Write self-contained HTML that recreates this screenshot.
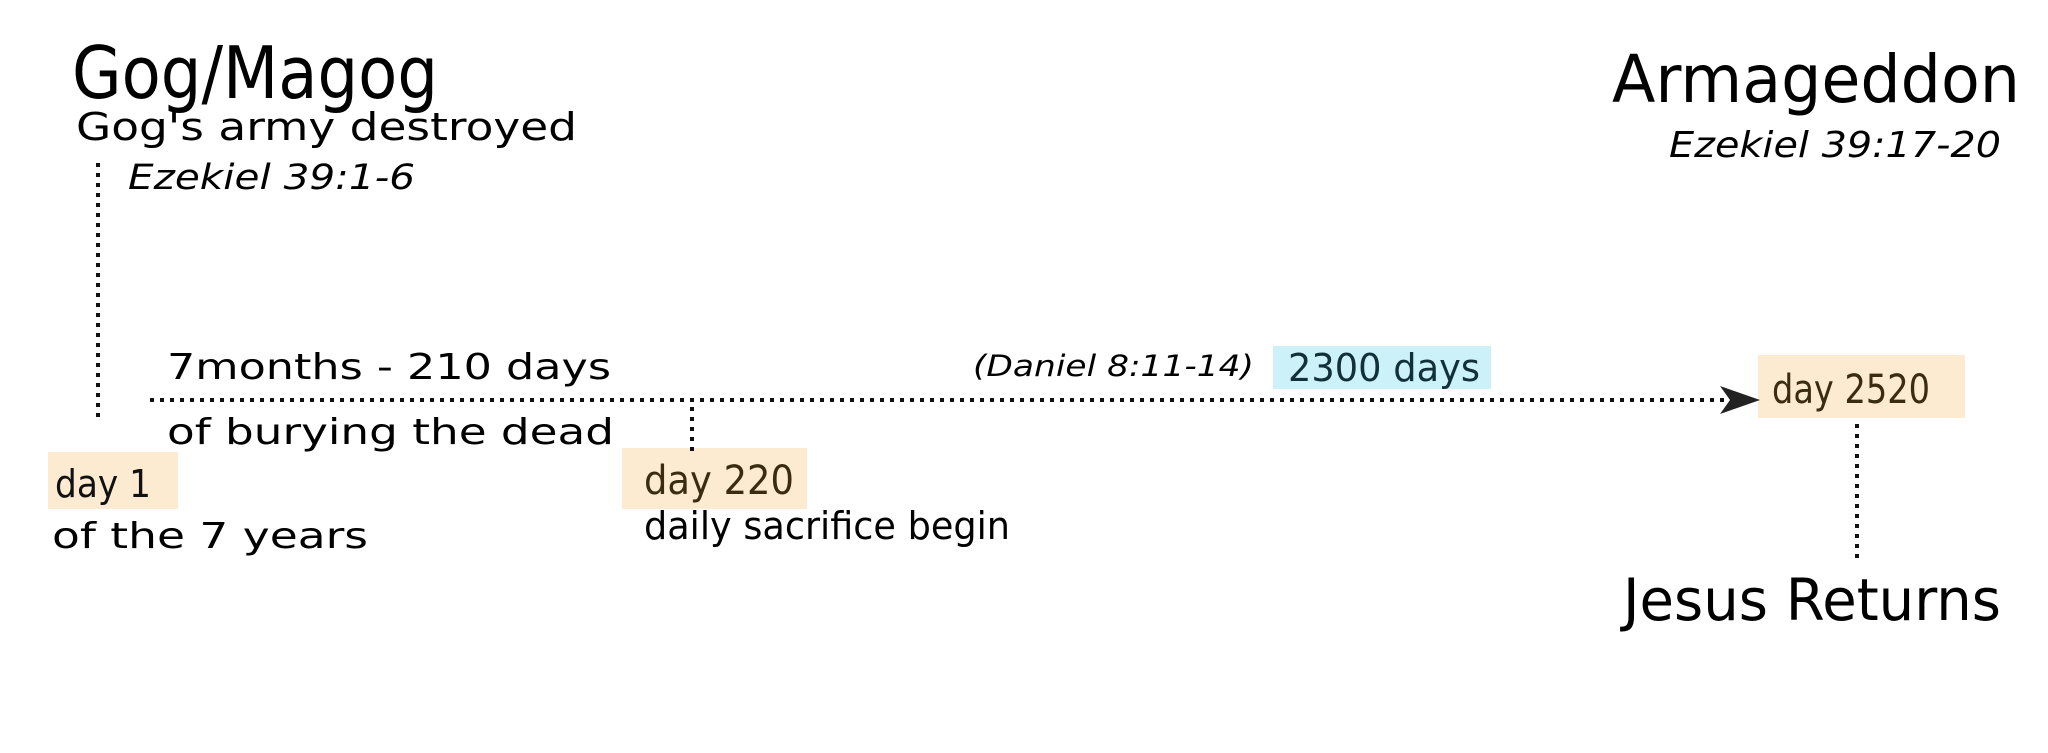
<!DOCTYPE html>
<html><head><meta charset="utf-8"><style>html,body{margin:0;padding:0;background:#fff}svg{display:block}</style></head>
<body>
<svg width="2048" height="753" viewBox="0 0 2048 753" xmlns="http://www.w3.org/2000/svg" font-family="DejaVu Sans, Liberation Sans, sans-serif">
<rect width="2048" height="753" fill="#fff"/>
<rect x="48" y="452" width="130" height="57" fill="#fcebd0"/>
<rect x="622" y="448" width="185" height="61" fill="#fcebd0"/>
<rect x="1273" y="346" width="218" height="43" fill="#cdf1f9"/>
<rect x="1758" y="355" width="207" height="63" fill="#fcebd0"/>
<g stroke="#111" stroke-width="4" stroke-dasharray="4 6" fill="none">
<line x1="98" y1="163" x2="98" y2="418"/>
<line x1="150" y1="400" x2="1725" y2="400"/>
<line x1="692" y1="407" x2="692" y2="451"/>
<line x1="1857" y1="424" x2="1857" y2="564"/>
</g>
<polygon points="1720,386 1760,400 1720,414 1730,400" fill="#222"/>
<g fill="#000">
<text x="72" y="98" font-size="72" textLength="366" lengthAdjust="spacingAndGlyphs">Gog/Magog</text>
<text x="76" y="140" font-size="38" textLength="501" lengthAdjust="spacingAndGlyphs">Gog's army destroyed</text>
<text x="128" y="189" font-size="35" font-style="italic" textLength="287" lengthAdjust="spacingAndGlyphs">Ezekiel 39:1-6</text>
<text x="167" y="379" font-size="36" textLength="444" lengthAdjust="spacingAndGlyphs">7months - 210 days</text>
<text x="167" y="444" font-size="36" textLength="447" lengthAdjust="spacingAndGlyphs">of burying the dead</text>
<text x="55" y="497" font-size="38" textLength="96" lengthAdjust="spacingAndGlyphs" fill="#111">day 1</text>
<text x="52" y="548" font-size="36" textLength="316" lengthAdjust="spacingAndGlyphs">of the 7 years</text>
<text x="644" y="494" font-size="40" textLength="150" lengthAdjust="spacingAndGlyphs" fill="#3a2c10">day 220</text>
<text x="644" y="539" font-size="38" textLength="366" lengthAdjust="spacingAndGlyphs">daily sacrifice begin</text>
<text x="973" y="376" font-size="29" font-style="italic" textLength="281" lengthAdjust="spacingAndGlyphs">(Daniel 8:11-14)</text>
<text x="1288" y="381" font-size="38" textLength="192" lengthAdjust="spacingAndGlyphs" fill="#12303a">2300 days</text>
<text x="1772" y="403" font-size="40" textLength="158" lengthAdjust="spacingAndGlyphs" fill="#3a2c10">day 2520</text>
<text x="1612" y="102" font-size="66" textLength="408" lengthAdjust="spacingAndGlyphs">Armageddon</text>
<text x="1669" y="157" font-size="36" font-style="italic" textLength="332" lengthAdjust="spacingAndGlyphs">Ezekiel 39:17-20</text>
<text x="1623" y="620" font-size="58" textLength="378" lengthAdjust="spacingAndGlyphs">Jesus Returns</text>
</g>
</svg>
</body></html>
